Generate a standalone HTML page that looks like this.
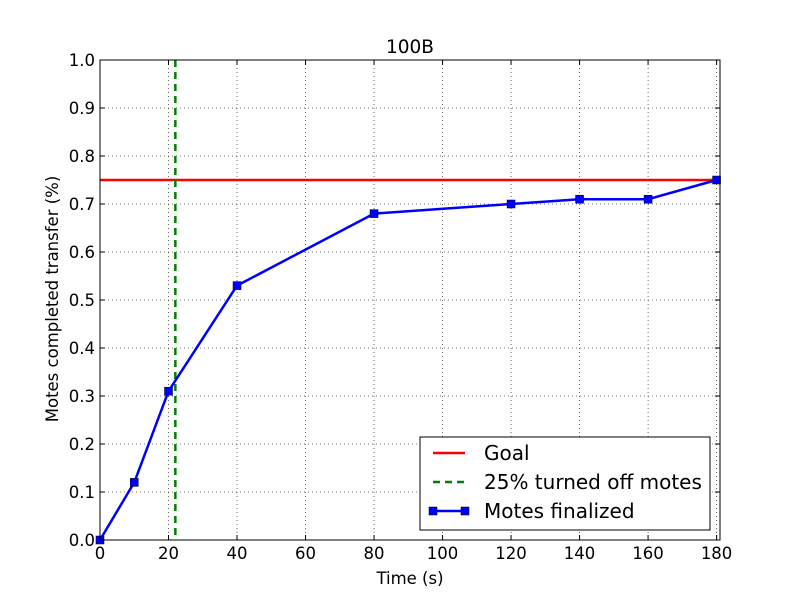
<!DOCTYPE html>
<html><head><meta charset="utf-8"><style>
body{margin:0;background:#fff;}
svg{display:block;font-family:"DejaVu Sans","Liberation Sans",sans-serif;}
</style></head><body>
<svg id="chart" width="800" height="600" xmlns="http://www.w3.org/2000/svg">
<rect width="800" height="600" fill="#fff"/>
<g id="grid"></g>
<g id="marks"></g>
<rect x="100" y="60" width="620" height="480" fill="none" stroke="#000" stroke-width="1"/>
<g id="ticks"></g>
<text x="410" y="53" font-size="18.5" text-anchor="middle">100B</text>
<text x="410" y="584" font-size="16.5" text-anchor="middle">Time (s)</text>
<text x="58" y="299" font-size="16.5" text-anchor="middle" transform="rotate(-90 58 299)">Motes completed transfer (%)</text>
<g>
<rect x="420" y="437" width="290" height="93" fill="#fff" stroke="#000"/>
<g>
<line x1="433" y1="453" x2="465" y2="453" stroke="red" stroke-width="2.5"/>
<text x="484" y="460" font-size="20">Goal</text></g>
<g>
<line x1="433" y1="482" x2="465" y2="482" stroke="green" stroke-width="2.5" stroke-dasharray="7,5"/>
<text x="484" y="489" font-size="20">25% turned off motes</text></g>
<g>
<line x1="433" y1="511" x2="465" y2="511" stroke="blue" stroke-width="2.5"/>
<rect x="429" y="507" width="8" height="8" fill="blue" stroke="#000" stroke-width="0.5"/>
<rect x="461" y="507" width="8" height="8" fill="blue" stroke="#000" stroke-width="0.5"/>
<text x="484" y="518" font-size="20">Motes finalized</text></g>
</g>
</svg>
<script>
const times=[0,10,20,40,80,120,140,160,180];
const finalized=[0,0.12,0.31,0.53,0.68,0.70,0.71,0.71,0.75];
const goal=[0.75];
const offTime=[22];
const xTicks=[0,20,40,60,80,100,120,140,160,180];
const yTicks=[0.0,0.1,0.2,0.3,0.4,0.5,0.6,0.7,0.8,0.9,1.0];
const NS="http://www.w3.org/2000/svg";
const X=v=>100+v*620/181;
const Y=v=>540-v*480;
function mk(tag,attrs,parent){const e=document.createElementNS(NS,tag);for(const k in attrs)e.setAttribute(k,attrs[k]);parent.appendChild(e);return e;}
const grid=document.getElementById('grid'),ticks=document.getElementById('ticks'),marks=document.getElementById('marks');
xTicks.forEach(t=>{
 const l=mk('line',{x1:X(t),x2:X(t),y1:60,y2:540,stroke:'#000','stroke-width':0.6,'stroke-dasharray':'1,3'},grid);
 
 
 mk('line',{x1:X(t),x2:X(t),y1:540,y2:535,stroke:'#000'},ticks);
 mk('line',{x1:X(t),x2:X(t),y1:60,y2:65,stroke:'#000'},ticks);
 const tx=mk('text',{x:X(t),y:559,'font-size':16.5,'text-anchor':'middle'},ticks);tx.textContent=t;
 
 
});
yTicks.forEach(t=>{
 const l=mk('line',{x1:100,x2:720,y1:Y(t),y2:Y(t),stroke:'#000','stroke-width':0.6,'stroke-dasharray':'1,3'},grid);
 
 
 mk('line',{x1:100,x2:105,y1:Y(t),y2:Y(t),stroke:'#000'},ticks);
 mk('line',{x1:715,x2:720,y1:Y(t),y2:Y(t),stroke:'#000'},ticks);
 const tx=mk('text',{x:95,y:Y(t)+6,'font-size':16.5,'text-anchor':'end'},ticks);tx.textContent=t.toFixed(1);
 
 
});
const g=mk('line',{x1:100,x2:720,y1:Y(goal[0]),y2:Y(goal[0]),stroke:'red','stroke-width':2.5},marks);


const d=mk('line',{x1:X(offTime[0]),x2:X(offTime[0]),y1:60,y2:540,stroke:'green','stroke-width':2.5,'stroke-dasharray':'7,5'},marks);


const p=mk('polyline',{points:times.map((t,i)=>X(t)+','+Y(finalized[i])).join(' '),fill:'none',stroke:'blue','stroke-width':2.5},marks);


times.forEach((t,i)=>{
 const r=mk('rect',{x:X(t)-4,y:Y(finalized[i])-4,width:8,height:8,fill:'blue',stroke:'#000','stroke-width':0.5},marks);
 
 
});
</script>
</body></html>
